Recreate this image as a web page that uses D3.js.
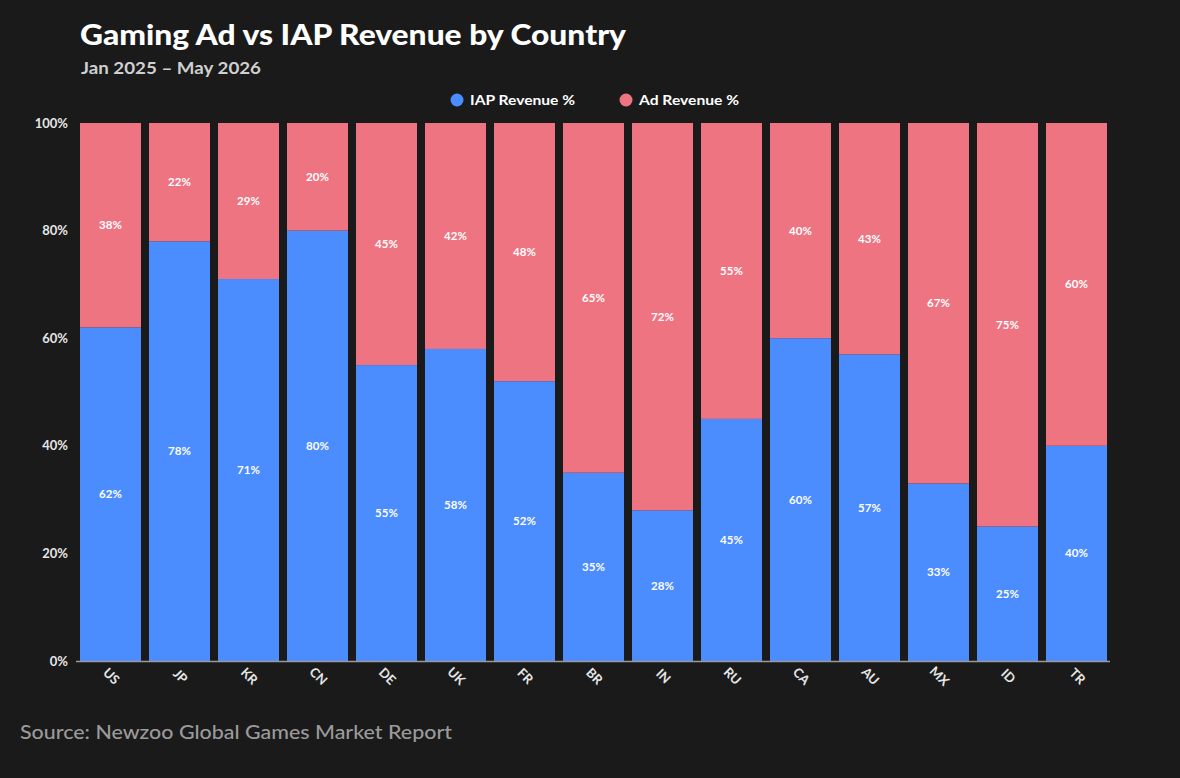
<!DOCTYPE html>
<html><head><meta charset="utf-8">
<script src="https://cdn.jsdelivr.net/npm/d3@7"></script>
<style>
html,body{margin:0;padding:0;background:#1a1a1a;}
svg{display:block;font-family:Lato,"Open Sans",sans-serif;}
</style></head>
<body>
<svg id="chart" width="1180" height="778"></svg>
<script>
const countries = ["US","JP","KR","CN","DE","UK","FR","BR","IN","RU","CA","AU","MX","ID","TR"];
const iapRevenue = [62,78,71,80,55,58,52,35,28,45,60,57,33,25,40];
const adRevenue  = [38,22,29,20,45,42,48,65,72,55,40,43,67,75,60];
const yTicks = [0,20,40,60,80,100];
const seriesNames = ["IAP Revenue %","Ad Revenue %"];
const colors = {iap:"#4b8cff", ad:"#ef7481"};

const svg = d3.select("#chart");
svg.append("rect").attr("width",1180).attr("height",778).attr("fill","#1a1a1a");

const x = d3.scaleBand().domain(countries).range([80,1107]).paddingInner(0.116).paddingOuter(0);
const y = d3.scaleLinear().domain([0,100]).range([661,123]);

// title
svg.append("text").attr("x",80).attr("y",45).attr("fill","#fff")
  .attr("font-size",29).attr("font-weight",900)
  .attr("textLength",546).attr("lengthAdjust","spacingAndGlyphs")
  .text("Gaming Ad vs IAP Revenue by Country");
svg.append("text").attr("x",81).attr("y",74).attr("fill","#cfcfcf")
  .attr("font-size",17).attr("font-weight",700)
  .attr("textLength",180).attr("lengthAdjust","spacingAndGlyphs")
  .text("Jan 2025 – May 2026");

// legend
const legend = [{name:seriesNames[0],c:colors.iap,x:457,w:105},{name:seriesNames[1],c:colors.ad,x:626,w:100}];
legend.forEach(l=>{
  svg.append("circle").attr("cx",l.x).attr("cy",100).attr("r",6.5).attr("fill",l.c);
  svg.append("text").attr("x",l.x+13).attr("y",105).attr("fill","#fff")
    .attr("font-size",14).attr("font-weight",700)
    .attr("textLength",l.w).attr("lengthAdjust","spacingAndGlyphs").text(l.name);
});

const data = countries.map((c,i)=>({c, iap:iapRevenue[i], ad:adRevenue[i]}));

// bars
const g = svg.append("g");
g.selectAll(".iap").data(data).join("rect")
  .attr("x",d=>x(d.c)).attr("width",x.bandwidth())
  .attr("y",d=>y(d.iap)).attr("height",d=>y(0)-y(d.iap)).attr("fill",colors.iap);
g.selectAll(".ad").data(data).join("rect")
  .attr("x",d=>x(d.c)).attr("width",x.bandwidth())
  .attr("y",d=>y(d.iap+d.ad)).attr("height",d=>y(d.iap)-y(d.iap+d.ad)).attr("fill",colors.ad);

// labels
g.selectAll(".liap").data(data).join("text")
  .attr("x",d=>x(d.c)+x.bandwidth()/2).attr("y",d=>(y(0)+y(d.iap))/2+4)
  .attr("text-anchor","middle").attr("fill","#fff").attr("font-size",11.5).attr("font-weight",700)
  .text(d=>d.iap+"%");
g.selectAll(".lad").data(data).join("text")
  .attr("x",d=>x(d.c)+x.bandwidth()/2).attr("y",d=>(y(d.iap)+y(d.iap+d.ad))/2+4)
  .attr("text-anchor","middle").attr("fill","#fff").attr("font-size",11.5).attr("font-weight",700)
  .text(d=>d.ad+"%");

// y axis
const yAxis = svg.append("g").attr("transform","translate(68,0)")
  .call(d3.axisLeft(y).tickValues(yTicks).tickFormat(d=>d+"%").tickSize(0).tickPadding(0));
yAxis.select(".domain").remove();
yAxis.selectAll("text").attr("fill","#e6e6e6").attr("font-size",13).attr("font-weight",700)
  .attr("font-family","Lato,sans-serif").attr("dy","0.32em");

// x axis
const xAxis = svg.append("g").attr("transform","translate(0,661)")
  .call(d3.axisBottom(x).tickSize(0).tickPadding(0));
xAxis.select(".domain").remove();
svg.append("line").attr("x1",76).attr("x2",1110).attr("y1",661.5).attr("y2",661.5)
  .attr("stroke","#9a9a9a").attr("stroke-width",1.5);
xAxis.selectAll(".tick text")
  .attr("fill","#e6e6e6").attr("font-size",13).attr("font-weight",700)
  .attr("font-family","Lato,sans-serif")
  .attr("text-anchor","middle").attr("y",0).attr("dy",0)
  .attr("transform","translate(0,16) rotate(45)")
  .attr("dominant-baseline","middle");

// source
svg.append("text").attr("x",20).attr("y",739).attr("fill","#9a9a9a")
  .attr("font-size",20).attr("font-weight",500)
  .attr("textLength",432).attr("lengthAdjust","spacingAndGlyphs")
  .text("Source: Newzoo Global Games Market Report");
</script>
</body></html>
